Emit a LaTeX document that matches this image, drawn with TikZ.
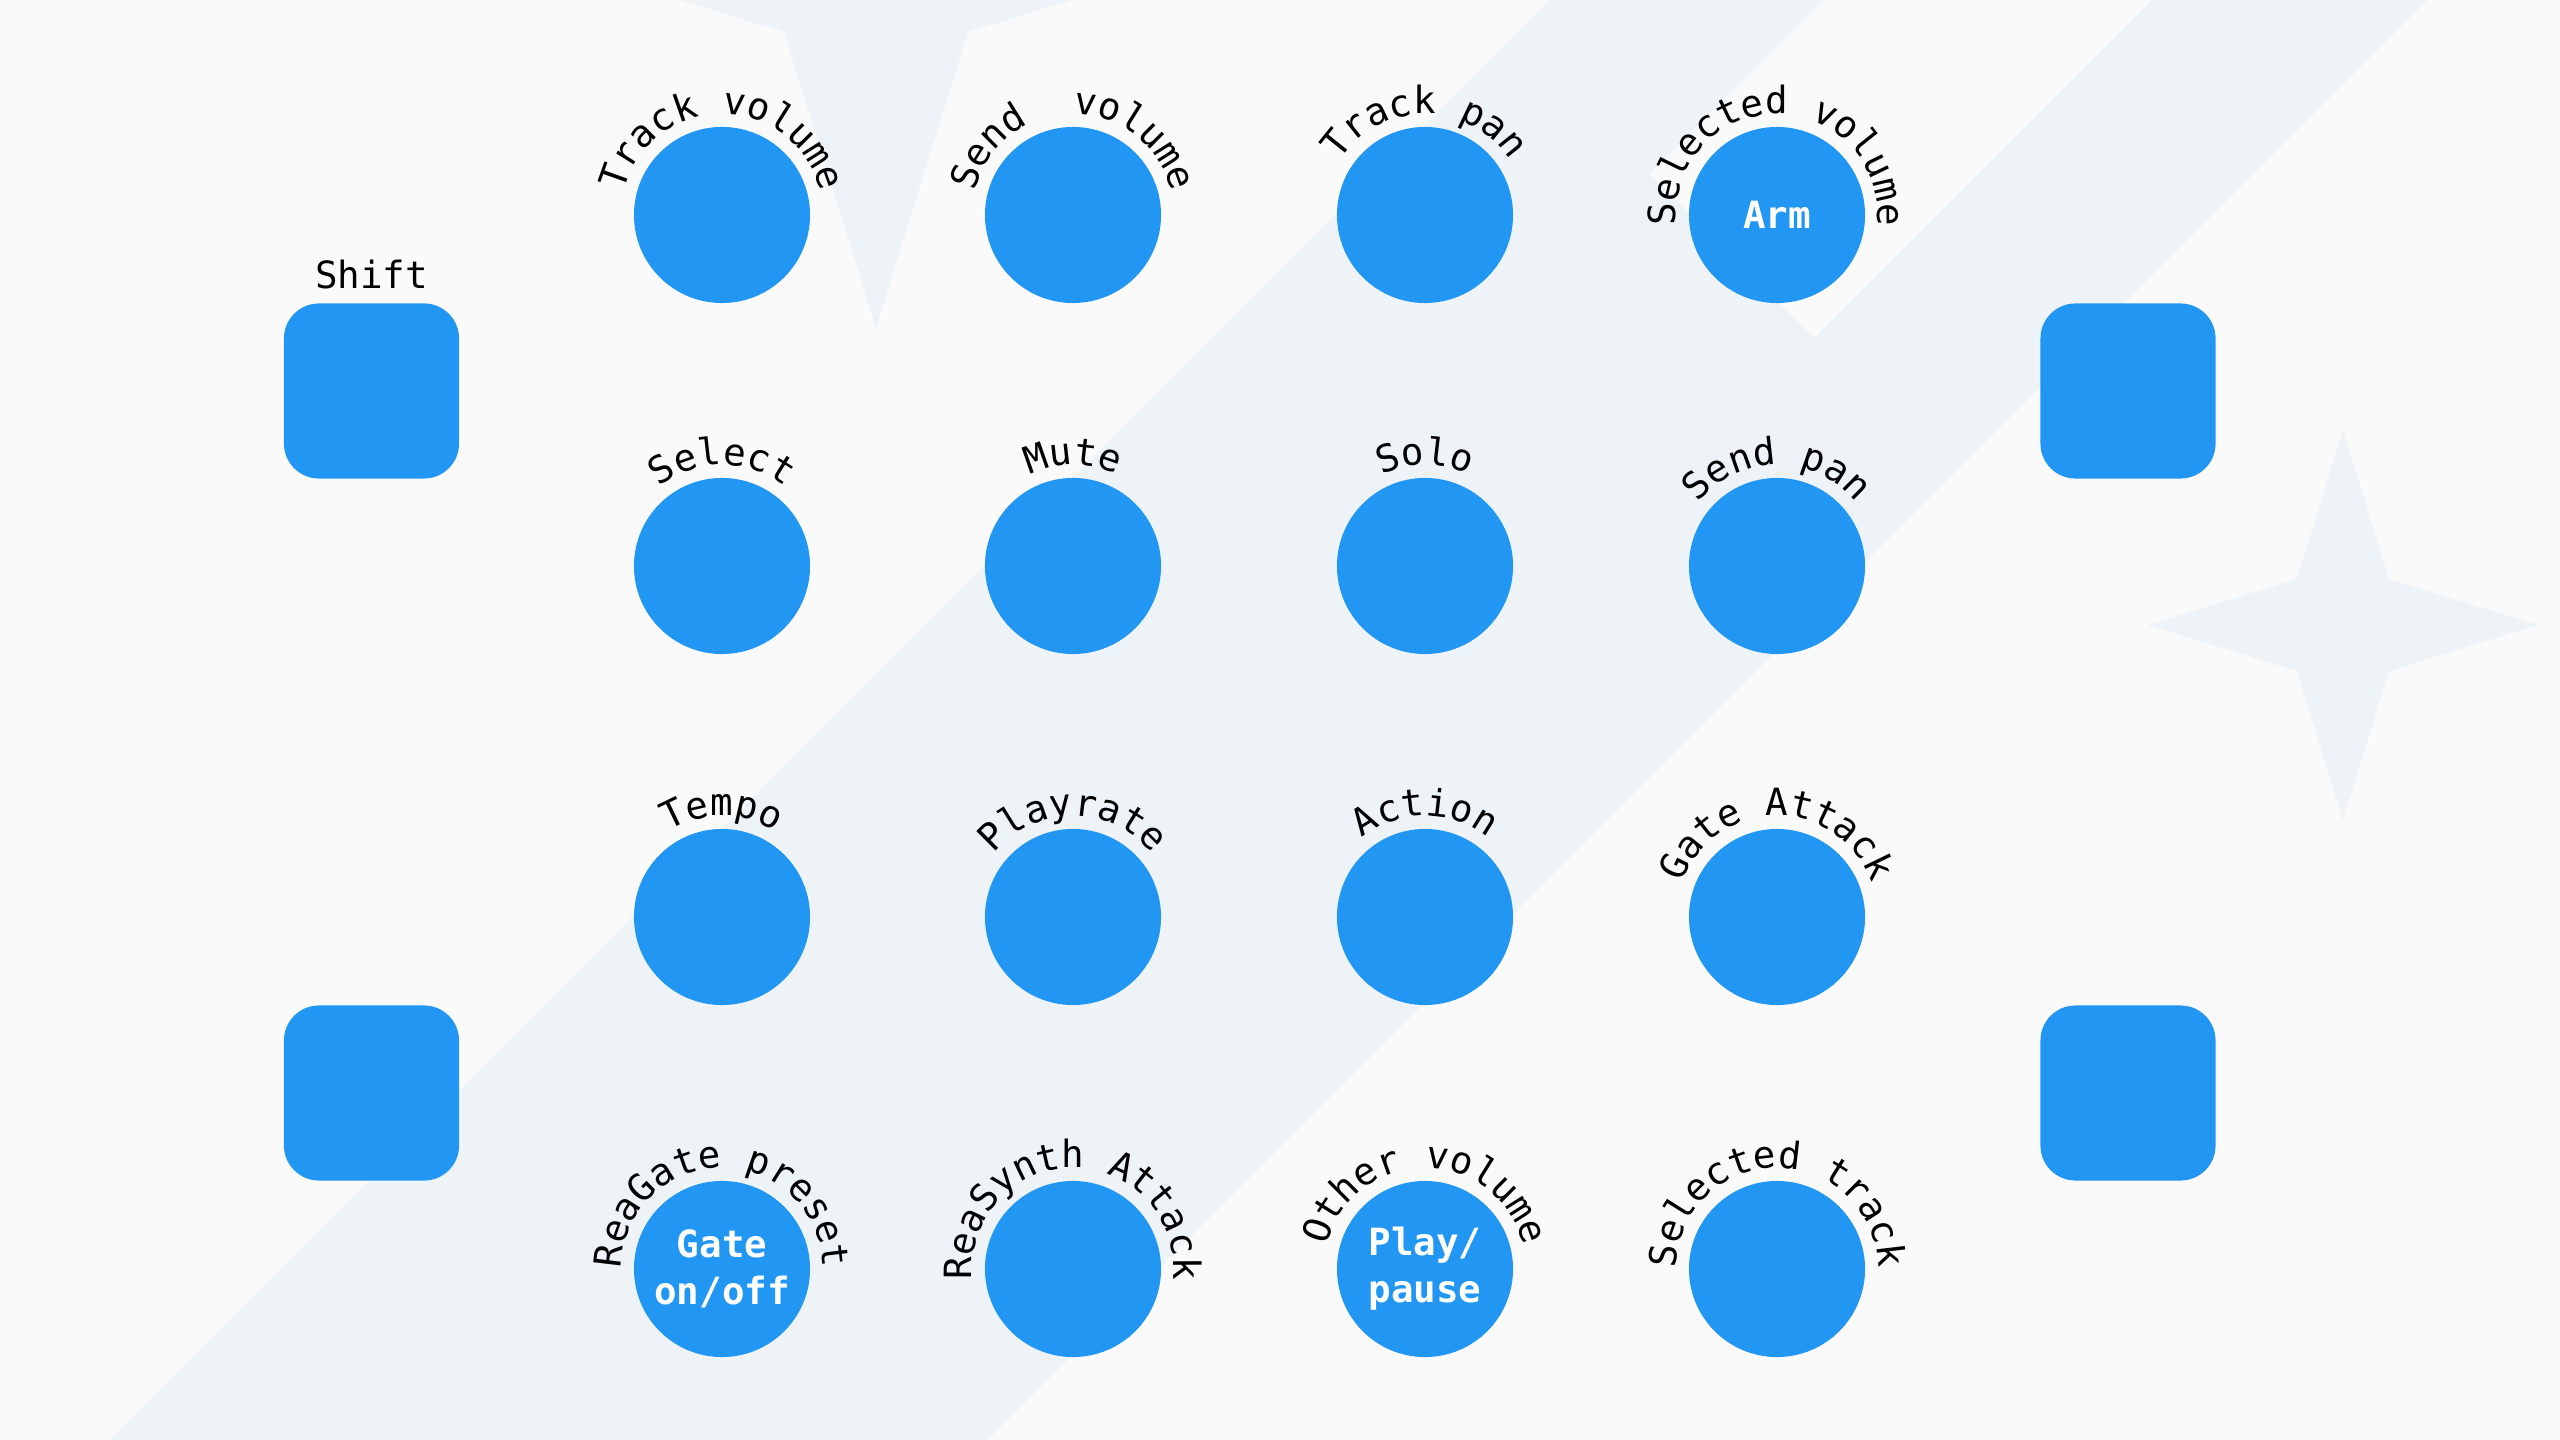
\documentclass[tikz,border=0pt]{standalone}
\usepackage{fontspec}
\newfontfamily\monofam{DejaVu Sans Mono}
\usetikzlibrary{decorations.text}
\definecolor{bgc}{HTML}{FAFAFA}
\definecolor{bandc}{HTML}{EEF3F8}
\definecolor{knobc}{HTML}{2196F3}
\newcommand\lblfont{\monofam\fontsize{10.67pt}{13.3pt}\selectfont}
\newcommand\arclabel[2]{%
  \path[decorate,decoration={text along path,text align=center,text color=black,text={|\lblfont|#2}}]
    ([shift={(205:101)}]#1.center) arc[start angle=205,end angle=-25,radius=101];}
\begin{document}
\begin{tikzpicture}[x=0.01cm,y=0.01cm,
  knob/.style={circle,fill=knobc,minimum size=1.76cm,inner sep=0pt,text=white,
    font=\monofam\bfseries\fontsize{10.67pt}{13.3pt}\selectfont,align=center},
  pad/.style={rectangle,fill=knobc,minimum size=1.75cm,rounded corners=0.35cm,inner sep=0pt},
  lbl/.style={font=\lblfont,text=black,inner sep=0pt}]
\useasboundingbox (0,-1440) rectangle (2560,0);
\fill[bgc] (0,-1440) rectangle (2560,0);
\begin{scope}
\clip (0,-1440) rectangle (2560,0);
\fill[bandc] (1550,0) -- (2427,0) -- (987,-1440) -- (110,-1440) -- cycle;
\fill[bgc] (1823,0) -- (2152,0) -- (1814,-338) -- (1649.5,-173.5) -- cycle;
\fill[bandc] (876,448) -- (968,152) -- (1264,60) -- (968,-32) -- (876,-328) -- (784,-32) -- (488,60) -- (784,152) -- cycle;
\fill[bandc] (2343,-430) -- (2389,-579) -- (2538,-625) -- (2389,-671) -- (2343,-820) -- (2297,-671) -- (2148,-625) -- (2297,-579) -- cycle;
\end{scope}
% pads
\node[pad] (padTL) at (371.5,-391) {};
\node[pad] (padBL) at (371.5,-1093) {};
\node[pad] (padTR) at (2128,-391) {};
\node[pad] (padBR) at (2128,-1093) {};
\node[lbl,anchor=base] (shift) at (371.5,-289) {Shift};
% knobs
\node[knob] (k11) at (722,-215) {};
\node[knob] (k12) at (1073,-215) {};
\node[knob] (k13) at (1425,-215) {};
\node[knob] (k14) at (1777,-215) {Arm};
\node[knob] (k21) at (722,-566) {};
\node[knob] (k22) at (1073,-566) {};
\node[knob] (k23) at (1425,-566) {};
\node[knob] (k24) at (1777,-566) {};
\node[knob] (k31) at (722,-917) {};
\node[knob] (k32) at (1073,-917) {};
\node[knob] (k33) at (1425,-917) {};
\node[knob] (k34) at (1777,-917) {};
\node[knob] (k41) at (722,-1269) {Gate\\on/off};
\node[knob] (k42) at (1073,-1269) {};
\node[knob] (k43) at (1425,-1269) {Play/\\pause};
\node[knob] (k44) at (1777,-1269) {};
% curved labels
\arclabel{k11}{Track volume}
\arclabel{k12}{Send{\ }{\ }volume}
\arclabel{k13}{Track pan}
\arclabel{k14}{Selected volume}
\arclabel{k21}{Select}
\arclabel{k22}{Mute}
\arclabel{k23}{Solo}
\arclabel{k24}{Send pan}
\arclabel{k31}{Tempo}
\arclabel{k32}{Playrate}
\arclabel{k33}{Action}
\arclabel{k34}{Gate Attack}
\arclabel{k41}{ReaGate preset}
\arclabel{k42}{ReaSynth Attack}
\arclabel{k43}{Other volume}
\arclabel{k44}{Selected track}
\end{tikzpicture}
\end{document}
